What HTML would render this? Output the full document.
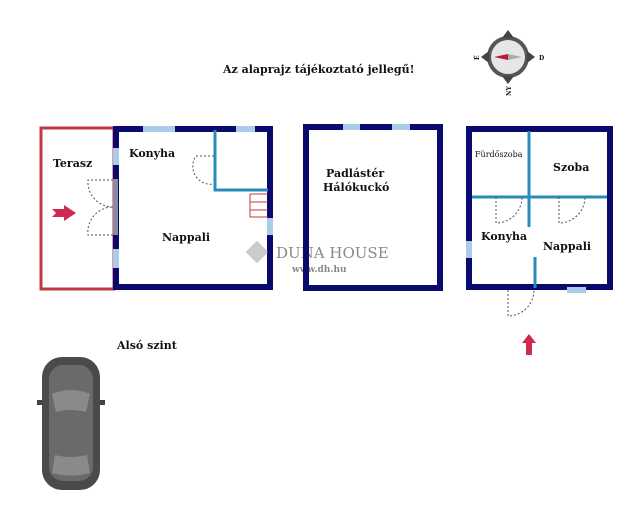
<!DOCTYPE html>
<html><head><meta charset="utf-8"><style>
html,body{margin:0;padding:0;background:#fff;width:640px;height:512px;overflow:hidden}
svg text{font-family:"DejaVu Serif","Liberation Serif",serif;font-weight:bold;fill:#111}
</style></head><body>
<svg width="640" height="512" viewBox="0 0 640 512" xmlns="http://www.w3.org/2000/svg">
<!-- title -->
<text x="223" y="73" font-size="11">Az alaprajz tájékoztató jellegű!</text>
<!-- compass -->
<g>
<circle cx="508" cy="57" r="21" fill="#555"/>
<polygon points="508,30 514,38 502,38" fill="#444"/>
<polygon points="508,84 514,76 502,76" fill="#444"/>
<polygon points="481,57 489,51 489,63" fill="#444"/>
<polygon points="535,57 527,51 527,63" fill="#444"/>
<circle cx="508" cy="57" r="17" fill="#e6e6e6"/>
<polygon points="494,57 508,54 508,60" fill="#c0143c"/>
<polygon points="522,57 508,54 508,60" fill="#aaa"/>
<text x="475" y="60" font-size="6" fill="#555" transform="rotate(-90 477 58)">É</text>
<text x="539" y="60" font-size="6" fill="#555">D</text>
<text x="505" y="96" font-size="6" fill="#555" transform="rotate(-90 508 93)">NY</text>
</g>
<!-- left building -->
<rect x="41" y="128" width="73" height="161" fill="none" stroke="#c0393f" stroke-width="3"/>
<rect x="116" y="129" width="154" height="158" fill="none" stroke="#0a0a6e" stroke-width="6"/>
<g fill="#a9cde8">
<rect x="143" y="126" width="32" height="6"/><rect x="236" y="126" width="19" height="6"/>
<rect x="113" y="148" width="6" height="17"/><rect x="113" y="249" width="6" height="19"/>
<rect x="267" y="218" width="6" height="17"/>
</g>
<rect x="113" y="179" width="5" height="56" fill="#8a8aa0"/>
<polyline points="215,130 215,190 268,190" fill="none" stroke="#2a8bb8" stroke-width="3"/>
<path d="M214,156 H196 A18,18 0 0 0 214,184" fill="none" stroke="#555" stroke-width="1" stroke-dasharray="2,2"/>
<path d="M113,180 H88 A25,25 0 0 0 113,207 M113,235 H88 A25,25 0 0 1 113,207" fill="none" stroke="#555" stroke-width="1" stroke-dasharray="2,2"/>
<path d="M250,194 H268 M250,194 V217 H268 M250,202 H268 M250,210 H268" fill="none" stroke="#c0393f" stroke-width="1"/>
<polygon points="52,209 64,209 64,205 76,213 64,221 64,217 52,217 56,213" fill="#d02950"/>
<text x="53" y="167" font-size="11">Terasz</text>
<text x="129" y="157" font-size="11">Konyha</text>
<text x="162" y="241" font-size="11">Nappali</text>
<!-- watermark -->
<g opacity="0.5">
<rect x="249" y="244" width="16" height="16" fill="#999" transform="rotate(45 257 252)"/>
<text x="276" y="258" font-size="15" fill="#aaa" style="font-weight:normal">DUNA HOUSE</text>
<text x="292" y="272" font-size="9" fill="#aaa">www.dh.hu</text>
</g>
<!-- middle -->
<rect x="306" y="127" width="134" height="161" fill="none" stroke="#0a0a6e" stroke-width="6"/>
<g fill="#a9cde8"><rect x="343" y="124" width="17" height="6"/><rect x="392" y="124" width="18" height="6"/></g>
<text x="326" y="177" font-size="11">Padlástér</text>
<text x="323" y="191" font-size="11">Hálókuckó</text>
<!-- right -->
<rect x="469" y="129" width="141" height="158" fill="none" stroke="#0a0a6e" stroke-width="6"/>
<g fill="#a9cde8"><rect x="466" y="241" width="6" height="17"/><rect x="567" y="287" width="19" height="6"/></g>
<g stroke="#2a8bb8" stroke-width="3" fill="none">
<line x1="529" y1="131" x2="529" y2="227"/><line x1="472" y1="197" x2="607" y2="197"/>
<line x1="535" y1="257" x2="535" y2="288"/></g>
<path d="M496,197 V223 A26,26 0 0 0 522,197 M559,197 V223 A26,26 0 0 0 585,197 M508,290 V316 A26,26 0 0 0 534,290" fill="none" stroke="#555" stroke-width="1" stroke-dasharray="2,2"/>
<text x="475" y="157" font-size="8" style="font-weight:normal">Fürdőszoba</text>
<text x="553" y="171" font-size="11">Szoba</text>
<text x="481" y="240" font-size="11">Konyha</text>
<text x="543" y="250" font-size="11">Nappali</text>
<polygon points="529,334 522,343 526,343 526,355 532,355 532,343 536,343" fill="#d02950"/>
<!-- bottom -->
<text x="117" y="349" font-size="11">Alsó szint</text>
<g>
<rect x="42" y="357" width="58" height="133" rx="20" fill="#4a4a4a"/>
<rect x="49" y="365" width="44" height="116" rx="14" fill="#6a6a6a"/>
<path d="M52,394 Q71,386 90,394 L86,412 Q71,408 56,412 Z" fill="#8a8a8a"/>
<path d="M55,455 Q71,459 87,455 L90,473 Q71,478 52,473 Z" fill="#8a8a8a"/>
<rect x="37" y="400" width="6" height="5" fill="#444"/><rect x="99" y="400" width="6" height="5" fill="#444"/>
</g>
</svg>
</body></html>
